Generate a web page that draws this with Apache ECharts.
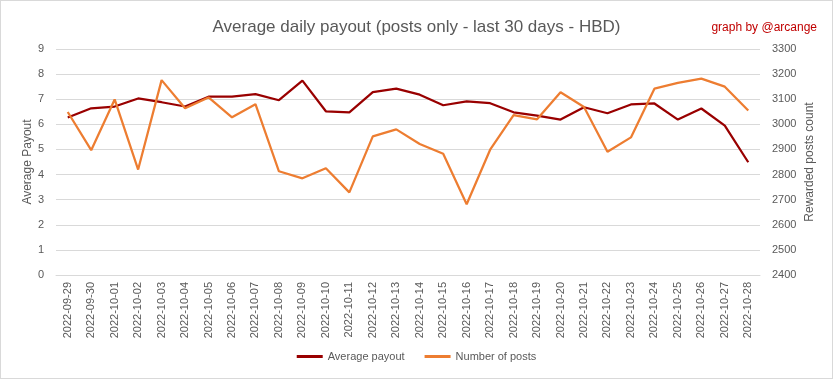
<!DOCTYPE html>
<html><head><meta charset="utf-8">
<script src="https://cdn.jsdelivr.net/npm/echarts@6/dist/echarts.min.js"></script>
<style>html,body{margin:0;padding:0;background:#fff}#c{width:831px;height:377px;border:1px solid #d9d9d9}</style>
</head><body><div id="c"></div>
<script>
const categories = ["2022-09-29","2022-09-30","2022-10-01","2022-10-02","2022-10-03","2022-10-04","2022-10-05","2022-10-06","2022-10-07","2022-10-08","2022-10-09","2022-10-10","2022-10-11","2022-10-12","2022-10-13","2022-10-14","2022-10-15","2022-10-16","2022-10-17","2022-10-18","2022-10-19","2022-10-20","2022-10-21","2022-10-22","2022-10-23","2022-10-24","2022-10-25","2022-10-26","2022-10-27","2022-10-28"];
const averagePayout = [6.27,6.64,6.71,7.03,6.88,6.71,7.10,7.10,7.20,6.96,7.74,6.52,6.48,7.28,7.42,7.18,6.76,6.91,6.84,6.48,6.35,6.19,6.68,6.44,6.79,6.83,6.19,6.63,5.95,4.49];
const numberOfPosts = [3049,2897,3099,2820,3176,3064,3107,3028,3080,2813,2785,2825,2729,2952,2980,2922,2883,2682,2899,3037,3020,3128,3069,2891,2948,3142,3165,3182,3150,3055];
const font = '"Liberation Sans", sans-serif';
const chart = echarts.init(document.getElementById('c'));
chart.setOption({
  animation:false,
  textStyle:{fontFamily:font},
  title:[{text:'Average daily payout (posts only - last 30 days - HBD)',left:'center',top:13,textStyle:{fontFamily:font,fontSize:17,fontWeight:'normal',color:'#595959'}},
         {text:'graph by @arcange',right:10,top:16,textStyle:{fontFamily:font,fontSize:12,fontWeight:'normal',color:'#c00000'}}],
  legend:{bottom:11,left:'center',icon:'rect',itemWidth:26,itemHeight:3,itemGap:20,textStyle:{fontFamily:font,fontSize:11,color:'#595959'},data:['Average payout','Number of posts']},
  grid:{left:55,right:72,top:48,bottom:103,containLabel:false},
  xAxis:{type:'category',data:categories,boundaryGap:true,axisLine:{lineStyle:{color:'#d9d9d9'}},axisTick:{show:false},
    axisLabel:{rotate:90,color:'#595959',fontSize:11,interval:0,margin:7,fontFamily:font}},
  yAxis:[{type:'value',min:0,max:9,interval:1,name:'Average Payout',nameLocation:'middle',nameGap:22,nameMoveOverlap:false,nameTextStyle:{color:'#595959',fontSize:12,fontFamily:font},
      axisLabel:{color:'#595959',fontSize:11,margin:12,fontFamily:font},axisLine:{show:false},axisTick:{show:false},splitLine:{lineStyle:{color:'#d9d9d9'}}},
    {type:'value',min:2400,max:3300,interval:100,name:'Rewarded posts count',nameLocation:'middle',nameGap:44,nameMoveOverlap:false,nameRotate:90,nameTextStyle:{color:'#595959',fontSize:12,fontFamily:font},
      axisLabel:{color:'#595959',fontSize:11,margin:12,fontFamily:font,formatter:v=>String(v)},axisLine:{show:false},axisTick:{show:false},splitLine:{show:false}}],
  series:[{name:'Average payout',type:'line',data:averagePayout,yAxisIndex:0,symbol:'none',lineStyle:{color:'#990000',width:2.25},itemStyle:{color:'#990000'}},
    {name:'Number of posts',type:'line',data:numberOfPosts,yAxisIndex:1,symbol:'none',lineStyle:{color:'#ed7d31',width:2.25},itemStyle:{color:'#ed7d31'}}]
});
</script></body></html>
